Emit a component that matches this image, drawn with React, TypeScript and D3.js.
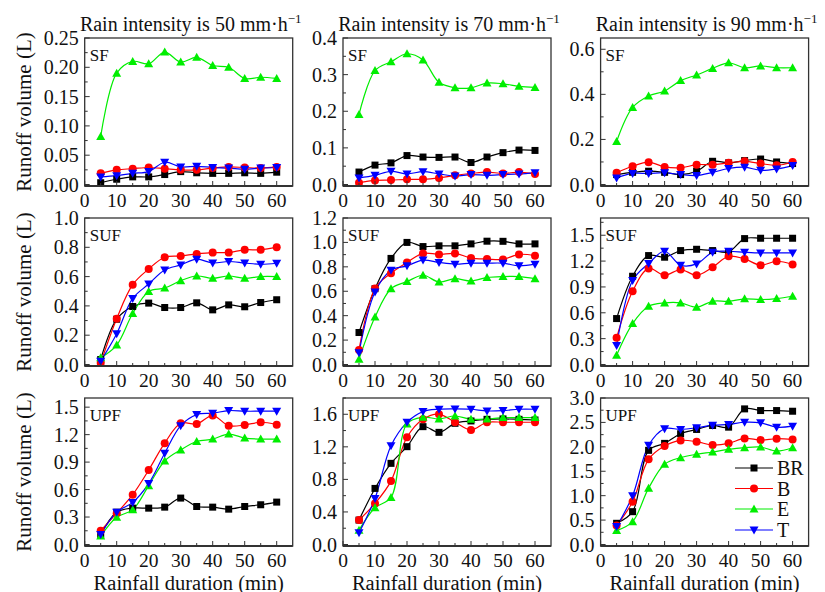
import React from "react";
import * as d3 from "d3";

const durations = [5, 10, 15, 20, 25, 30, 35, 40, 45, 50, 55, 60];
const seriesNames = ["BR", "B", "E", "T"];
const intensities = [50, 70, 90];
const flowTypes = ["SF", "SUF", "UPF"];

// SF
const sf50_BR = [0.003, 0.009, 0.013, 0.013, 0.017, 0.022, 0.020, 0.019, 0.019, 0.020, 0.019, 0.021];
const sf50_B = [0.019, 0.025, 0.027, 0.029, 0.027, 0.025, 0.025, 0.028, 0.030, 0.029, 0.028, 0.030];
const sf50_E = [0.082, 0.190, 0.210, 0.206, 0.226, 0.209, 0.217, 0.203, 0.200, 0.181, 0.183, 0.181];
const sf50_T = [0.013, 0.015, 0.019, 0.022, 0.038, 0.030, 0.031, 0.029, 0.028, 0.026, 0.028, 0.029];

const sf70_BR = [0.034, 0.053, 0.059, 0.079, 0.075, 0.074, 0.075, 0.060, 0.075, 0.087, 0.094, 0.093];
const sf70_B = [0.005, 0.011, 0.012, 0.014, 0.014, 0.018, 0.025, 0.030, 0.034, 0.030, 0.034, 0.029];
const sf70_E = [0.191, 0.311, 0.335, 0.357, 0.340, 0.279, 0.264, 0.264, 0.277, 0.275, 0.268, 0.265];
const sf70_T = [0.018, 0.025, 0.036, 0.029, 0.035, 0.029, 0.023, 0.027, 0.025, 0.027, 0.029, 0.032];

const sf90_BR = [0.044, 0.054, 0.059, 0.054, 0.044, 0.059, 0.103, 0.096, 0.106, 0.113, 0.100, 0.093];
const sf90_B = [0.052, 0.081, 0.099, 0.078, 0.074, 0.088, 0.088, 0.096, 0.103, 0.093, 0.085, 0.100];
const sf90_E = [0.191, 0.342, 0.393, 0.415, 0.461, 0.486, 0.515, 0.540, 0.518, 0.526, 0.518, 0.518];
const sf90_T = [0.029, 0.049, 0.049, 0.052, 0.044, 0.040, 0.054, 0.071, 0.077, 0.063, 0.069, 0.084];

// SUF
const suf50_BR = [0.034, 0.309, 0.396, 0.419, 0.389, 0.389, 0.421, 0.373, 0.407, 0.394, 0.423, 0.442];
const suf50_B = [0.011, 0.313, 0.545, 0.652, 0.732, 0.741, 0.755, 0.764, 0.764, 0.783, 0.783, 0.801];
const suf50_E = [0.046, 0.133, 0.348, 0.499, 0.522, 0.572, 0.604, 0.588, 0.604, 0.588, 0.600, 0.600];
const suf50_T = [0.023, 0.210, 0.451, 0.549, 0.645, 0.680, 0.719, 0.693, 0.703, 0.693, 0.684, 0.691];

const suf70_BR = [0.262, 0.621, 0.869, 1.0, 0.966, 0.972, 0.972, 0.988, 1.01, 1.009, 0.988, 0.988];
const suf70_B = [0.119, 0.623, 0.748, 0.836, 0.910, 0.902, 0.910, 0.872, 0.864, 0.861, 0.902, 0.891];
const suf70_E = [0.044, 0.389, 0.621, 0.679, 0.731, 0.676, 0.703, 0.684, 0.712, 0.720, 0.720, 0.703];
const suf70_T = [0.097, 0.593, 0.772, 0.808, 0.855, 0.836, 0.822, 0.830, 0.830, 0.830, 0.808, 0.822];

const suf90_BR = [0.533, 1.024, 1.264, 1.245, 1.322, 1.337, 1.322, 1.307, 1.461, 1.465, 1.465, 1.465];
const suf90_B = [0.309, 0.850, 1.113, 1.036, 1.102, 1.036, 1.129, 1.256, 1.225, 1.152, 1.198, 1.160];
const suf90_E = [0.108, 0.475, 0.676, 0.715, 0.715, 0.665, 0.734, 0.734, 0.762, 0.754, 0.765, 0.792];
const suf90_T = [0.220, 0.974, 1.171, 1.314, 1.152, 1.167, 1.303, 1.314, 1.303, 1.295, 1.295, 1.295];

// UPF
const upf50_BR = [0.110, 0.353, 0.397, 0.397, 0.408, 0.507, 0.415, 0.408, 0.386, 0.415, 0.434, 0.463];
const upf50_B = [0.151, 0.342, 0.544, 0.813, 1.107, 1.324, 1.316, 1.408, 1.298, 1.305, 1.335, 1.309];
const upf50_E = [0.092, 0.298, 0.379, 0.643, 0.912, 1.033, 1.125, 1.151, 1.206, 1.162, 1.151, 1.151];
const upf50_T = [0.110, 0.353, 0.460, 0.665, 0.996, 1.298, 1.419, 1.434, 1.463, 1.456, 1.456, 1.456];

const upf70_BR = [0.300, 0.689, 0.997, 1.202, 1.448, 1.378, 1.489, 1.518, 1.538, 1.543, 1.538, 1.530];
const upf70_B = [0.300, 0.505, 0.779, 1.317, 1.538, 1.600, 1.502, 1.407, 1.502, 1.502, 1.502, 1.502];
const upf70_E = [0.176, 0.451, 0.578, 1.481, 1.563, 1.543, 1.579, 1.538, 1.543, 1.559, 1.559, 1.559];
const upf70_T = [0.144, 0.566, 1.214, 1.501, 1.633, 1.662, 1.666, 1.662, 1.641, 1.645, 1.662, 1.662];

const upf90_BR = [0.434, 0.672, 1.928, 2.071, 2.268, 2.356, 2.437, 2.403, 2.777, 2.743, 2.743, 2.729];
const upf90_B = [0.387, 0.876, 1.745, 2.016, 2.132, 2.105, 2.037, 2.071, 2.173, 2.139, 2.166, 2.152];
const upf90_E = [0.285, 0.468, 1.154, 1.643, 1.779, 1.847, 1.894, 1.948, 1.982, 1.996, 1.914, 1.982];
const upf90_T = [0.367, 0.998, 2.030, 2.369, 2.356, 2.390, 2.444, 2.458, 2.505, 2.491, 2.403, 2.424];

// y-axis settings per panel [row][col]
const yMax = [[0.25, 0.4, 0.65], [1.0, 1.2, 1.7], [1.6, 1.8, 3.0]];
const yStep = [[0.05, 0.1, 0.2], [0.2, 0.2, 0.3], [0.3, 0.4, 0.5]];
const yDecimals = [[2, 1, 1], [1, 1, 1], [1, 1, 1]];
const xTicks = [0, 10, 20, 30, 40, 50, 60];

const panelData = [
  [[sf50_BR, sf50_B, sf50_E, sf50_T], [sf70_BR, sf70_B, sf70_E, sf70_T], [sf90_BR, sf90_B, sf90_E, sf90_T]],
  [[suf50_BR, suf50_B, suf50_E, suf50_T], [suf70_BR, suf70_B, suf70_E, suf70_T], [suf90_BR, suf90_B, suf90_E, suf90_T]],
  [[upf50_BR, upf50_B, upf50_E, upf50_T], [upf70_BR, upf70_B, upf70_E, upf70_T], [upf90_BR, upf90_B, upf90_E, upf90_T]],
];

const colors = ["#000000", "#ff0000", "#00ee00", "#0000ff"];
const FONT = "'Liberation Serif', 'Times New Roman', serif";

const boxLefts = [84.7, 343, 600.6];
const boxTops = [38, 218, 398];
const BOX_W = 208;
const BOX_H = 148;

function Marker({ kind, x, y, color }: { kind: number; x: number; y: number; color: string }) {
  if (kind === 0) return <rect x={x - 3.5} y={y - 3.5} width={7} height={7} fill={color} />;
  if (kind === 1) return <circle cx={x} cy={y} r={4} fill={color} />;
  if (kind === 2) {
    const p = d3.path();
    p.moveTo(x, y - 4.5); p.lineTo(x + 4.5, y + 3.5); p.lineTo(x - 4.5, y + 3.5); p.closePath();
    return <path d={p.toString()} fill={color} />;
  }
  const p = d3.path();
  p.moveTo(x, y + 4.5); p.lineTo(x + 4.5, y - 3.5); p.lineTo(x - 4.5, y - 3.5); p.closePath();
  return <path d={p.toString()} fill={color} />;
}

function Panel({ r, c }: { r: number; c: number }) {
  const left = boxLefts[c];
  const top = boxTops[r];
  const x = d3.scaleLinear().domain([0, 65]).range([left, left + BOX_W]);
  const y = d3.scaleLinear().domain([0, yMax[r][c]]).range([top + BOX_H - 1.5, top]);
  const step = yStep[r][c];
  const majors = d3.range(0, yMax[r][c] + 1e-9, step).map((v) => +v.toFixed(4));
  const minors = d3.range(step / 2, yMax[r][c] + 1e-9, step).map((v) => +v.toFixed(4));
  const xMinors = [5, 15, 25, 35, 45, 55];
  const line = d3
    .line<number>()
    .x((_, i) => x(durations[i]))
    .y((v) => y(v))
    .curve(d3.curveCatmullRom.alpha(0.5));
  const bottom = top + BOX_H;
  const series = panelData[r][c];
  return (
    <g>
      {series.map((vals, si) => (
        <path key={"l" + si} d={line(vals) || ""} fill="none" stroke={colors[si]} strokeWidth={1.2} />
      ))}
      {series.map((vals, si) =>
        vals.map((v, i) => <Marker key={"m" + si + "-" + i} kind={si} x={x(durations[i])} y={y(v)} color={colors[si]} />)
      )}
      <rect x={left} y={top} width={BOX_W} height={BOX_H} fill="none" stroke="#333" strokeWidth={1.3} />
      <line x1={left} x2={left + BOX_W} y1={bottom} y2={bottom} stroke="#333" strokeWidth={1.8} />
      {majors.map((v) => (
        <g key={"ym" + v}>
          <line x1={left} x2={left + 5} y1={y(v)} y2={y(v)} stroke="#333" strokeWidth={1} />
          <text x={left - 6} y={y(v) + 7} textAnchor="end" fontFamily={FONT} fontSize={20} fill="#111">
            {v.toFixed(yDecimals[r][c])}
          </text>
        </g>
      ))}
      {minors.map((v) => (
        <line key={"yn" + v} x1={left} x2={left + 3} y1={y(v)} y2={y(v)} stroke="#333" strokeWidth={1} />
      ))}
      {xTicks.map((t) => (
        <g key={"xt" + t}>
          <line x1={x(t)} x2={x(t)} y1={bottom} y2={bottom - 5} stroke="#333" strokeWidth={1} />
          <text x={x(t)} y={bottom + 21} textAnchor="middle" fontFamily={FONT} fontSize={19.5} fill="#111">
            {t}
          </text>
        </g>
      ))}
      {xMinors.map((t) => (
        <line key={"xn" + t} x1={x(t)} x2={x(t)} y1={bottom} y2={bottom - 3} stroke="#333" strokeWidth={1} />
      ))}
      <text x={left + 5} y={top + 23} fontFamily={FONT} fontSize={17} fill="#111">
        {flowTypes[r]}
      </text>
      {r === 0 && (
        <text x={left + BOX_W / 2 + 2} y={31} textAnchor="middle" fontFamily={FONT} fontSize={20} fill="#111">
          {"Rain intensity is " + intensities[c] + " mm·h"}
          <tspan dy={-8} fontSize={13}>−1</tspan>
        </text>
      )}
      {r === 2 && (
        <text x={left + BOX_W / 2} y={589.5} textAnchor="middle" fontFamily={FONT} fontSize={20.5} fill="#111">
          Rainfall duration (min)
        </text>
      )}
      {c === 0 && (
        <text
          transform={`translate(31,${top + BOX_H / 2}) rotate(-90)`}
          textAnchor="middle"
          fontFamily={FONT}
          fontSize={21}
          fill="#111"
        >
          Runoff volume (L)
        </text>
      )}
    </g>
  );
}

function Legend() {
  const ys = [468, 488.5, 509, 530];
  return (
    <g>
      {seriesNames.map((n, i) => (
        <g key={n}>
          <line x1={735} x2={773} y1={ys[i]} y2={ys[i]} stroke={colors[i]} strokeWidth={1.2} />
          <Marker kind={i} x={754} y={ys[i]} color={colors[i]} />
          <text x={777} y={ys[i] + 7} fontFamily={FONT} fontSize={20} fill="#111">
            {n}
          </text>
        </g>
      ))}
    </g>
  );
}

export default function App() {
  return (
    <svg width={825} height={592} style={{ position: "absolute", left: 0, top: 0, background: "#fff" }}>
      <rect width={825} height={592} fill="#fff" />
      {[0, 1, 2].map((r) => [0, 1, 2].map((c) => <Panel key={r + "-" + c} r={r} c={c} />))}
      <Legend />
    </svg>
  );
}
